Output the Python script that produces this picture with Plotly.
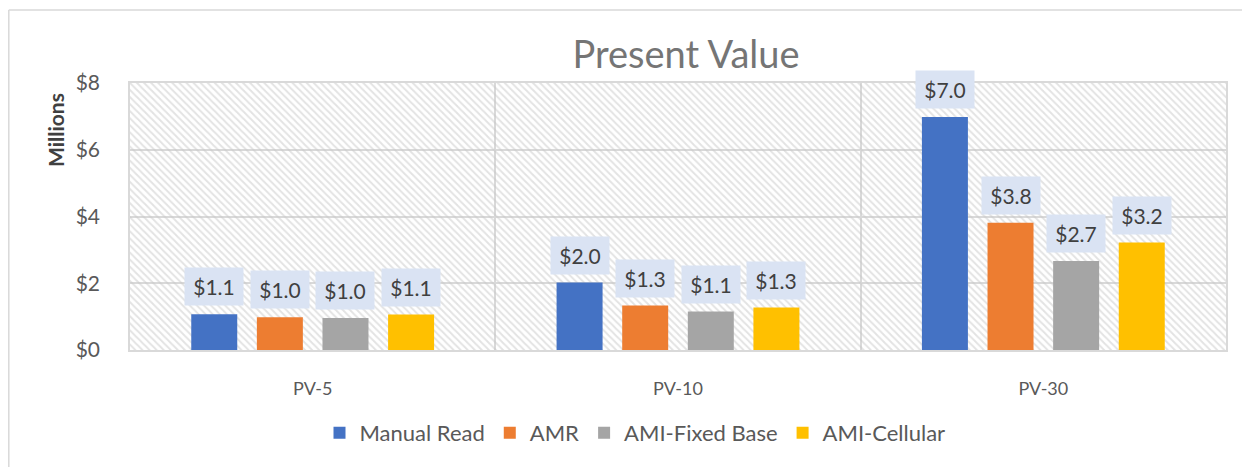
import plotly.graph_objects as go

categories = ["PV-5", "PV-10", "PV-30"]
series_names = ["Manual Read", "AMR", "AMI-Fixed Base", "AMI-Cellular"]
manual_read = [1.07, 2.02, 6.98]
amr = [0.98, 1.33, 3.81]
ami_fixed = [0.96, 1.15, 2.67]
ami_cellular = [1.06, 1.27, 3.22]
series_values = [manual_read, amr, ami_fixed, ami_cellular]
colors = ["#4472C4", "#ED7D31", "#A5A5A5", "#FFC000"]
y_max = 8
y_ticks = [0, 2, 4, 6, 8]
y_ticktext = ["$0", "$2", "$4", "$6", "$8"]

FONT = "Lato"
OFF = 8  # page body margin
W, H = 1250 - OFF, 467 - OFF
ML, MT = 130 - OFF, 83 - OFF
PLOT_R, PLOT_B = 1226 - OFF, 350 - OFF
MR, MB = W - PLOT_R, H - PLOT_B
plot_w = PLOT_R - ML
plot_h = PLOT_B - MT

slot = 0.1796
bar_w = 0.1259

fig = go.Figure()

# hatched plot-area background
fig.add_trace(go.Bar(
    x=[categories[0]], y=[y_max], width=[len(categories)], offset=-0.5,
    marker=dict(color="rgba(0,0,0,0)", line=dict(width=0),
                pattern=dict(shape="\\", fgcolor="#C8C8C8", bgcolor="rgba(0,0,0,0)",
                             size=5, solidity=0.4)),
    showlegend=False, hoverinfo="skip"))

for i, (name, vals, col) in enumerate(zip(series_names, series_values, colors)):
    center = (i - 1.5) * slot
    fig.add_trace(go.Bar(
        x=categories, y=vals, name=name, width=bar_w, offset=center - bar_w / 2,
        marker=dict(color=col, line=dict(width=0))))
    for j, v in enumerate(vals):
        fig.add_annotation(
            x=j + center, y=v, xref="x", yref="y",
            text=f"${v:.1f}", showarrow=False, yanchor="bottom", yshift=8,
            bgcolor="#DAE3F3", width=58, height=37, borderpad=0,
            font=dict(family=FONT, size=21, color="#404040"))

def px_x(p):
    return (p - OFF - ML) / plot_w

def px_y(p):
    return (PLOT_B - (p - OFF)) / plot_h

# y axis title
fig.add_annotation(x=px_x(55), y=px_y(130), xref="paper", yref="paper",
                   xanchor="center", yanchor="middle",
                   text="<b>Millions</b>", textangle=-90, showarrow=False,
                   font=dict(family=FONT, size=21, color="#404040"))

# outer chart border (left and top visible)
fig.add_shape(type="line", xref="paper", yref="paper",
              x0=px_x(8.8), x1=px_x(8.8), y0=px_y(10), y1=px_y(475),
              line=dict(color="#D9D9D9", width=1.5))
fig.add_shape(type="line", xref="paper", yref="paper",
              x0=px_x(8.8), x1=px_x(1260), y0=px_y(10), y1=px_y(10),
              line=dict(color="#D9D9D9", width=1.5))

fig.update_layout(
    width=W, height=H,
    margin=dict(l=ML, r=MR, t=MT, b=MB),
    paper_bgcolor="white", plot_bgcolor="white",
    barmode="overlay",
    title=dict(text="Present Value", x=px_x(686), xanchor="center", xref="paper",
               y=1 - (55 - OFF) / H, yanchor="middle",
               font=dict(family=FONT, size=38, color="#757575")),
    legend=dict(orientation="h", x=px_x(635), xanchor="center",
                y=px_y(433), yanchor="middle",
                font=dict(family=FONT, size=22, color="#595959"),
                traceorder="normal", itemwidth=30),
    xaxis=dict(type="category", range=[-0.5, len(categories) - 0.5],
               tickson="boundaries", showgrid=True, gridcolor="#D9D9D9", gridwidth=1.5,
               showline=True, mirror=True, linecolor="#D9D9D9", linewidth=1.5,
               ticks="", ticklabelstandoff=22,
               tickfont=dict(family=FONT, size=18, color="#595959")),
    yaxis=dict(range=[0, y_max], tickvals=y_ticks, ticktext=y_ticktext,
               showgrid=True, gridcolor="#D9D9D9", gridwidth=1.5, zeroline=False,
               showline=True, mirror=True, linecolor="#D9D9D9", linewidth=1.5,
               ticks="", ticklabelstandoff=24,
               tickfont=dict(family=FONT, size=21, color="#595959")),
)

fig.write_html("out.html")
